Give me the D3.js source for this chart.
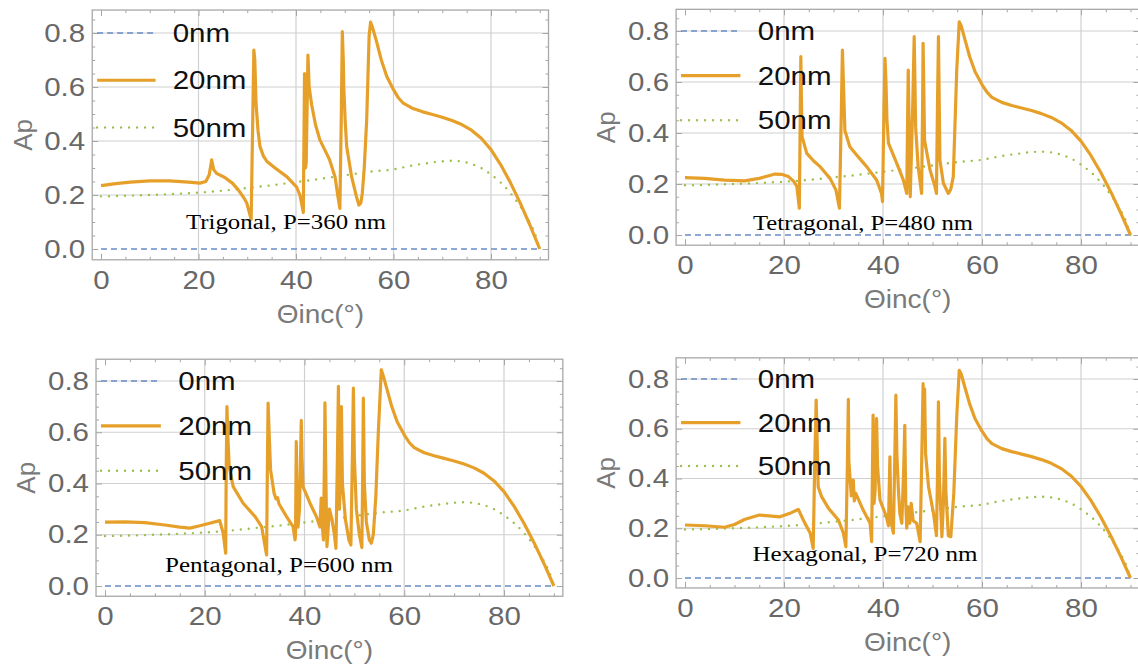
<!DOCTYPE html>
<html><head><meta charset="utf-8">
<script src="https://cdn.jsdelivr.net/npm/d3@7"></script>
<style>body{margin:0;background:#fff}svg{display:block}</style>
</head><body><svg id="c" width="1138" height="666"></svg>
<script>
// ---------- data ----------
const xTicks = [0, 20, 40, 60, 80];
const xMinorTicks = [5,10,15,25,30,35,45,50,55,65,70,75,85,90];
const yTicks = [0, 0.2, 0.4, 0.6, 0.8];
const yMinorTicks = [0.05,0.1,0.15,0.25,0.3,0.35,0.45,0.5,0.55,0.65,0.7,0.75,0.85];
const legendLabels = ["0nm", "20nm", "50nm"];
const panelTitles = ["Trigonal, P=360 nm", "Tetragonal, P=480 nm", "Pentagonal, P=600 nm", "Hexagonal, P=720 nm"];
const xLabel = "\u0398inc(\u00b0)";
const yLabel = "Ap";

const ap0nm = [[0, 0], [90, 0]];

const ap50nm = [[0,0.195],[5,0.197],[10,0.2],[15,0.204],[20,0.209],[25,0.216],[30,0.226],[35,0.236],[40,0.248],
  [45,0.26],[50,0.273],[55,0.286],[60,0.295],[64,0.31],[67,0.318],[70,0.325],[72,0.327],[74,0.324],[76,0.315],
  [78,0.3],[80,0.276],[82,0.246],[84,0.207],[86,0.158],[88,0.097],[89,0.058],[90,0]];

const ap20Tail = [[56.5,0.77],[57.5,0.7],[58.6,0.64],[60,0.59],[61,0.56],[62,0.54],[64,0.52],[66,0.508],
  [68,0.498],[70,0.488],[72,0.476],[74,0.461],[76,0.44],[78,0.41],[80,0.368],[82,0.312],[84,0.245],[86,0.17],
  [88,0.088],[90,0]];

const ap20Trigonal = [[0,0.235],[3,0.242],[6,0.248],[10,0.252],[14,0.252],[18,0.248],[20.3,0.244],[21.5,0.25],
  [22.2,0.275],[22.7,0.33],[23.1,0.295],[23.7,0.28],[25.4,0.265],[27,0.243],[28.2,0.218],[29.3,0.19],[29.9,0.17],
  [30.5,0.13],[30.8,0.11],[31.1,0.45],[31.35,0.737],[31.55,0.7],[31.8,0.54],[32.2,0.44],[32.6,0.38],[33.3,0.345],
  [34,0.325],[35.7,0.3],[38.1,0.268],[40.1,0.23],[40.8,0.2],[41.2,0.165],[41.5,0.135],[41.75,0.65],[41.95,0.3],
  [42.1,0.32],[42.45,0.718],[42.7,0.6],[43.2,0.535],[44,0.46],[44.9,0.404],[46.9,0.33],[48,0.268],[48.6,0.194],
  [49.0,0.15],[49.3,0.5],[49.5,0.805],[49.7,0.7],[49.8,0.6],[50.1,0.47],[50.4,0.38],[51.4,0.268],[52.4,0.194],
  [52.9,0.163],[53.3,0.17],[53.6,0.206],[54,0.3],[54.5,0.478],[55,0.79],[55.3,0.84],[55.7,0.82]];

const ap20Tetragonal = [[0,0.225],[4,0.222],[8,0.215],[12,0.212],[15,0.222],[18.2,0.239],[19.5,0.238],[20.9,0.229],
  [22,0.21],[22.6,0.19],[23.1,0.105],[23.3,0.5],[23.4,0.7],[23.5,0.55],[23.65,0.386],[24.6,0.32],[26,0.29],
  [27.3,0.268],[29.3,0.222],[30.5,0.176],[31.2,0.105],[31.6,0.5],[31.8,0.725],[32.0,0.6],[32.3,0.41],[33.3,0.346],
  [34.5,0.318],[36.7,0.268],[38.7,0.216],[39.7,0.163],[39.9,0.131],[40.2,0.5],[40.4,0.693],[40.6,0.6],[40.8,0.45],
  [41.1,0.36],[42.8,0.28],[44.1,0.216],[44.8,0.163],[45.0,0.5],[45.1,0.647],[45.3,0.4],[45.5,0.15],[46.0,0.5],
  [46.3,0.778],[46.6,0.42],[47.1,0.268],[47.8,0.163],[48.0,0.5],[48.1,0.752],[48.4,0.37],[49.5,0.255],[50.5,0.19],
  [50.8,0.163],[51.0,0.5],[51.2,0.778],[51.5,0.294],[52.2,0.203],[53.2,0.163],[53.7,0.18],[54.2,0.229],[54.9,0.647],
  [55.4,0.836],[55.8,0.82]];

const ap20Pentagonal = [[0,0.249],[4,0.25],[8,0.247],[12,0.238],[15,0.23],[17,0.226],[19,0.235],[21,0.245],
  [23.0,0.255],[23.7,0.206],[24.2,0.128],[24.3,0.45],[24.45,0.7],[24.6,0.6],[24.9,0.466],[25.7,0.388],[27.7,0.323],
  [30.1,0.271],[31.4,0.232],[32.1,0.154],[32.4,0.121],[32.55,0.45],[32.7,0.714],[32.9,0.6],[33.2,0.453],[33.9,0.362],
  [34.3,0.34],[34.6,0.345],[34.9,0.32],[36.4,0.271],[37.7,0.232],[38.1,0.18],[38.2,0.2],[38.35,0.564],[38.5,0.35],
  [38.7,0.23],[39.0,0.3],[39.35,0.646],[39.5,0.5],[39.7,0.388],[41.1,0.323],[42.4,0.27],[43.1,0.23],[43.35,0.343],
  [43.55,0.24],[43.8,0.18],[44.0,0.5],[44.1,0.715],[44.3,0.4],[44.5,0.154],[45.0,0.3],[45.5,0.26],[46.0,0.2],
  [46.3,0.147],[46.6,0.5],[46.8,0.779],[47.0,0.3],[47.2,0.4],[47.4,0.7],[47.6,0.4],[48.2,0.26],[48.9,0.18],
  [49.3,0.16],[49.6,0.5],[49.8,0.772],[50.0,0.5],[50.4,0.3],[51.0,0.2],[51.5,0.15],[51.65,0.4],[51.8,0.733],
  [52.0,0.4],[52.4,0.25],[53.0,0.18],[53.4,0.167],[53.8,0.2],[54.3,0.35],[54.8,0.6],[55.4,0.844],[55.8,0.82]];

const ap20Hexagonal = [[0,0.213],[4,0.21],[8,0.204],[10,0.215],[12,0.235],[15,0.253],[17,0.25],[19.2,0.246],
  [21.2,0.26],[22.9,0.276],[23.9,0.233],[25.3,0.18],[25.9,0.119],[26.2,0.45],[26.5,0.715],[26.7,0.55],[26.9,0.367],
  [27.6,0.327],[29,0.28],[31,0.233],[32,0.18],[32.5,0.126],[32.8,0.45],[33.0,0.718],[33.1,0.47],[33.6,0.33],
  [34.0,0.394],[34.2,0.31],[34.5,0.34],[36,0.273],[37.4,0.22],[37.7,0.146],[37.85,0.4],[38.0,0.655],[38.2,0.3],
  [38.4,0.35],[38.7,0.641],[38.9,0.45],[39.4,0.313],[40.7,0.246],[41.1,0.21],[41.3,0.4],[41.4,0.487],[41.6,0.23],
  [42.1,0.18],[42.4,0.5],[42.6,0.735],[42.8,0.5],[43.1,0.36],[43.4,0.26],[43.8,0.22],[44.2,0.45],[44.4,0.614],
  [44.6,0.3],[44.8,0.2],[45.1,0.286],[45.4,0.22],[45.7,0.3],[46.1,0.23],[46.8,0.22],[47.5,0.146],[47.8,0.45],
  [48.1,0.782],[48.25,0.6],[48.4,0.76],[48.6,0.5],[49.2,0.367],[50.2,0.26],[50.8,0.17],[51.0,0.4],[51.2,0.708],
  [51.4,0.4],[51.9,0.166],[52.2,0.3],[52.5,0.561],[52.7,0.35],[53.2,0.17],[53.7,0.166],[54.3,0.34],[54.9,0.65],
  [55.4,0.835],[55.8,0.82]];

// ---------- layout ----------
const layout = [
  {series: ap20Trigonal,   x0:101, x80:491,  y0:249, y08:33,  tx:286, ty:229, tw:200},
  {series: ap20Tetragonal, x0:685, x80:1081, y0:235, y08:31,  tx:863, ty:230, tw:220},
  {series: ap20Pentagonal, x0:105, x80:504,  y0:586, y08:381, tx:279, ty:572, tw:228},
  {series: ap20Hexagonal,  x0:685, x80:1081, y0:578, y08:379, tx:865, ty:561, tw:225}
];
const C_BLUE = "#6a8cc6", C_ORANGE = "#e6a02a", C_GREEN = "#9dbf4c";
const SANS = "'Liberation Sans', Arial, sans-serif";
const STRETCH = 1.18;

const svg = d3.select("#c");
svg.append("rect").attr("width",1138).attr("height",666).attr("fill","#fff");

function stretch(sel, k){
  sel.each(function(){
    const w = this.getComputedTextLength();
    d3.select(this).attr("textLength", w*k).attr("lengthAdjust","spacingAndGlyphs");
  });
}

layout.forEach((p, i) => {
  const x = d3.scaleLinear().domain([0, 80]).range([p.x0, p.x80]);
  const y = d3.scaleLinear().domain([0, 0.8]).range([p.y0, p.y08]);
  const L = x(-1.8), R = x(91.8), T = y(0.885), B = y(-0.04);
  const g = svg.append("g");
  const clipId = "clip" + i;
  g.append("clipPath").attr("id", clipId).append("rect")
    .attr("x", L).attr("y", T).attr("width", R - L).attr("height", B - T);

  // grid
  g.append("g").selectAll("line").data(xTicks.filter(d => d > 0)).join("line")
    .attr("x1", d => x(d)).attr("x2", d => x(d)).attr("y1", T).attr("y2", B)
    .attr("stroke", "#d0d0d0").attr("stroke-width", 1.2);
  g.append("g").selectAll("line").data(yTicks.filter(d => d > 0)).join("line")
    .attr("y1", d => y(d)).attr("y2", d => y(d)).attr("x1", L).attr("x2", R)
    .attr("stroke", "#d0d0d0").attr("stroke-width", 1.2);

  // axes (ticks inside frame)
  const styleAxis = a => { a.select(".domain").remove(); a.selectAll("line").attr("stroke", "#a6a6a6"); };
  const ax = g.append("g").attr("transform", `translate(0,${B})`)
    .call(d3.axisBottom(x).tickValues(xTicks).tickSizeInner(-6).tickSizeOuter(0).tickPadding(11));
  styleAxis(ax);
  ax.selectAll("text").attr("font-family", SANS).attr("font-size", 25).attr("fill", "#686868");
  stretch(ax.selectAll("text"), STRETCH);
  styleAxis(g.append("g").attr("transform", `translate(0,${B})`)
    .call(d3.axisBottom(x).tickValues(xMinorTicks).tickFormat("").tickSizeInner(-3).tickSizeOuter(0)));
  styleAxis(g.append("g").attr("transform", `translate(0,${T})`)
    .call(d3.axisTop(x).tickValues(xTicks).tickFormat("").tickSizeInner(-6).tickSizeOuter(0)));
  styleAxis(g.append("g").attr("transform", `translate(0,${T})`)
    .call(d3.axisTop(x).tickValues(xMinorTicks).tickFormat("").tickSizeInner(-3).tickSizeOuter(0)));

  const ay = g.append("g").attr("transform", `translate(${L},0)`)
    .call(d3.axisLeft(y).tickValues(yTicks).tickFormat(d3.format(".1f")).tickSizeInner(-6).tickSizeOuter(0).tickPadding(7));
  styleAxis(ay);
  ay.selectAll("text").attr("font-family", SANS).attr("font-size", 25).attr("fill", "#686868");
  stretch(ay.selectAll("text"), STRETCH);
  styleAxis(g.append("g").attr("transform", `translate(${L},0)`)
    .call(d3.axisLeft(y).tickValues(yMinorTicks).tickFormat("").tickSizeInner(-3).tickSizeOuter(0)));
  styleAxis(g.append("g").attr("transform", `translate(${R},0)`)
    .call(d3.axisRight(y).tickValues(yTicks).tickFormat("").tickSizeInner(-6).tickSizeOuter(0)));
  styleAxis(g.append("g").attr("transform", `translate(${R},0)`)
    .call(d3.axisRight(y).tickValues(yMinorTicks).tickFormat("").tickSizeInner(-3).tickSizeOuter(0)));

  // frame
  g.append("rect").attr("x", L).attr("y", T).attr("width", R - L).attr("height", B - T)
    .attr("fill", "none").attr("stroke", "#a8a8a8").attr("stroke-width", 1.3);

  const line = d3.line().x(d => x(d[0])).y(d => y(d[1]));
  const plot = g.append("g").attr("clip-path", `url(#${clipId})`);
  plot.append("path").datum(ap0nm).attr("d", line).attr("fill", "none")
    .attr("stroke", C_BLUE).attr("stroke-width", 1.7).attr("stroke-dasharray", "6,4");
  plot.append("path").datum(ap50nm).attr("d", d3.line().x(d => x(d[0])).y(d => y(d[1])).curve(d3.curveMonotoneX))
    .attr("fill", "none")
    .attr("stroke", C_GREEN).attr("stroke-width", 2.4).attr("stroke-linecap", "round").attr("stroke-dasharray", "0,8");
  plot.append("path").datum(p.series.concat(ap20Tail)).attr("d", line)
    .attr("fill", "none").attr("stroke", C_ORANGE).attr("stroke-width", 3.2)
    .attr("stroke-linejoin", "round");

  // legend
  const legY = [0.8, 0.625, 0.45];
  const legStyle = [
    {c: C_BLUE, w: 1.7, dash: "6,4", cap: "butt"},
    {c: C_ORANGE, w: 3.2, dash: null, cap: "butt"},
    {c: C_GREEN, w: 2.4, dash: "0,8", cap: "round"}
  ];
  legendLabels.forEach((lab, k) => {
    g.append("line").attr("x1", x(-0.8)).attr("x2", x(11.2)).attr("y1", y(legY[k])).attr("y2", y(legY[k]))
      .attr("stroke", legStyle[k].c).attr("stroke-width", legStyle[k].w)
      .attr("stroke-dasharray", legStyle[k].dash).attr("stroke-linecap", legStyle[k].cap);
    const t = g.append("text").attr("x", x(14.7)).attr("y", y(legY[k])).attr("dy", "0.36em")
      .attr("font-family", SANS).attr("font-size", 25).attr("fill", "#111").text(lab);
    stretch(t, STRETCH);
  });

  // panel annotation
  g.append("text").attr("x", p.tx).attr("y", p.ty).attr("text-anchor", "middle")
    .attr("font-family", "'Liberation Serif', 'Times New Roman', serif").attr("font-size", 20)
    .attr("fill", "#000").attr("textLength", p.tw).attr("lengthAdjust", "spacingAndGlyphs")
    .text(panelTitles[i]);

  // axis labels
  const xl = g.append("text").attr("x", (L + R) / 2).attr("y", B + 63).attr("text-anchor", "middle")
    .attr("font-family", SANS).attr("font-size", 25).attr("fill", "#7a7a7a").text(xLabel);
  stretch(xl, 1.12);
  g.append("text").attr("transform", `translate(${L - 70},${(T + B) / 2}) rotate(-90)`)
    .attr("text-anchor", "middle").attr("dy", "0.36em")
    .attr("font-family", SANS).attr("font-size", 26).attr("fill", "#7a7a7a").text(yLabel);
});
</script>
</body></html>
